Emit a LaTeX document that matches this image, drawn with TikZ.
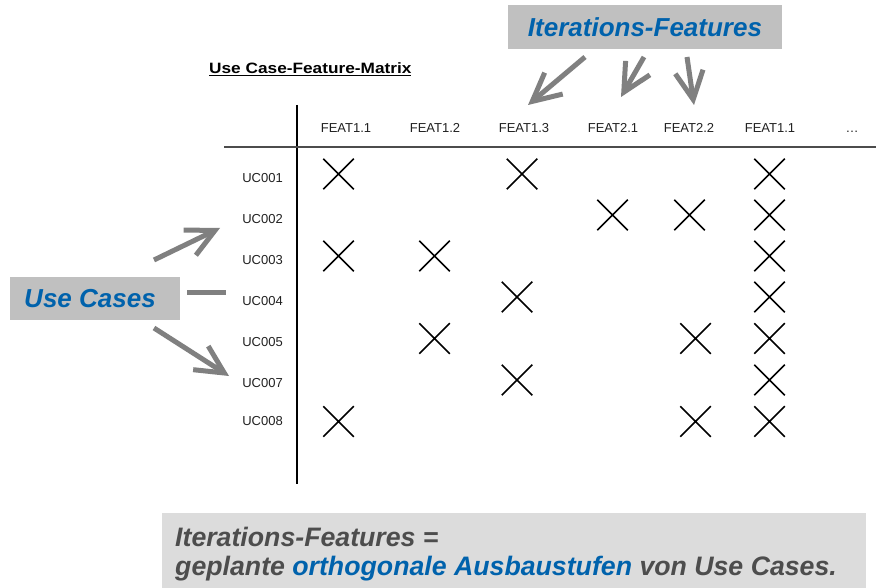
\documentclass[tikz,border=0pt]{standalone}
\usepackage{fontspec}
\setmainfont{Liberation Sans}
\usetikzlibrary{arrows.meta,shapes.misc}
\definecolor{hlblue}{HTML}{0062AC}
\definecolor{calloutgray}{HTML}{C0C0C0}
\definecolor{notegray}{HTML}{DCDCDC}
\definecolor{notetext}{HTML}{4D4D4D}
\definecolor{pointergray}{HTML}{808080}
\definecolor{labeltext}{HTML}{222222}
\begin{document}
\begin{tikzpicture}[x=1pt,y=-1pt,
  callout/.style={fill=calloutgray, inner sep=0pt, text=hlblue,
    font=\fontsize{26}{30}\selectfont\bfseries\itshape},
  pointer/.style={draw=pointergray, line width=5pt,
    -{Straight Barb[length=28pt,width=28pt]}},
  stub/.style={draw=pointergray, line width=5pt},
  xmark/.style={cross out, draw, line width=1.5pt, minimum size=29pt, inner sep=0pt},
  uclabel/.style={anchor=base east, text=labeltext, inner sep=0pt,
    font=\fontsize{13}{15}\selectfont},
  featlabel/.style={anchor=base, text=labeltext, inner sep=0pt,
    font=\fontsize{13}{15}\selectfont},
  notetextstyle/.style={anchor=base west, inner sep=0pt, text=notetext,
    font=\fontsize{26.7}{30}\selectfont\bfseries\itshape}]

\useasboundingbox[fill=white] (0,0) rectangle (876,588);

% title
\node[anchor=base west, inner sep=0pt, font=\fontsize{15}{18}\selectfont\bfseries]
  (title) at (209,74) {\scalebox{1.15}[1]{\underline{Use Case-Feature-Matrix}}};

% table axes
\coordinate (vtop) at (297,105);
\coordinate (vbot) at (297,484);
\coordinate (hleft) at (224,147);
\coordinate (hright) at (876,147);
\draw[line width=1.3pt] (vtop) -- (vbot);
\draw[line width=1.8pt, black!70] (hleft) -- (hright);

% column headers
\foreach \x/\t/\n in {346/FEAT1.1/f1, 435/FEAT1.2/f2, 524/FEAT1.3/f3,
                      613/FEAT2.1/f4, 689/FEAT2.2/f5, 770/FEAT1.1/f6}
  \node[featlabel] (\n) at (\x,133) {\t};
\node[featlabel] (f7) at (852,133) {\ldots};

% row headers
\foreach \y/\t/\n in {182.5/UC001/u1, 223.5/UC002/u2, 264.5/UC003/u3,
                      305.5/UC004/u4, 346.5/UC005/u5, 387.5/UC007/u6, 425.5/UC008/u7}
  \node[uclabel] (\n) at (283,\y) {\t};

% matrix entries
\foreach \x/\y/\n in {
    338.5/174/m11, 522/174/m13, 769.5/174/m16,
    612.5/215/m24, 689.5/215/m25, 769.5/215/m26,
    338.5/256/m31, 434.5/256/m32, 769.5/256/m36,
    517/297/m43, 769.5/297/m46,
    434.5/338.5/m52, 695.5/338.5/m55, 769.5/338.5/m56,
    517/380/m63, 769.5/380/m66,
    338.5/421.5/m71, 695.5/421.5/m75, 769.5/421.5/m76}
  \node[xmark] (\n) at (\x,\y) {};

% callout: iteration features
\node[callout, minimum width=274pt, minimum height=44pt] (itf) at (645,27) {Iterations-Features};
\coordinate (a1s) at (585,57);  \coordinate (a1e) at (528,105);
\coordinate (a2s) at (644,57);  \coordinate (a2e) at (621,97);
\coordinate (a3s) at (687,57);  \coordinate (a3e) at (694,105);
\draw[pointer] (a1s) -- (a1e);
\draw[pointer] (a2s) -- (a2e);
\draw[pointer] (a3s) -- (a3e);

% callout: use cases
\node[callout, minimum width=170pt, minimum height=43pt] (uc) at (95,298.5) {Use Cases\hspace*{10pt}};
\coordinate (b1s) at (154,260); \coordinate (b1e) at (220,228);
\coordinate (b2s) at (187,293); \coordinate (b2e) at (226,293);
\coordinate (b3s) at (154,328); \coordinate (b3e) at (229,376);
\draw[pointer] (b1s) -- (b1e);
\draw[stub] (b2s) -- (b2e);
\draw[pointer] (b3s) -- (b3e);

% note at the bottom
\node[fill=notegray, anchor=north west, minimum width=704pt, minimum height=75pt,
  inner sep=0pt] (note) at (162,513) {};
\node[notetextstyle] (note1) at (175,546) {Iterations-Features =};
\node[notetextstyle] (note2) at (175,575)
  {geplante \textcolor{hlblue}{orthogonale Ausbaustufen} von Use Cases.};
\end{tikzpicture}
\end{document}
